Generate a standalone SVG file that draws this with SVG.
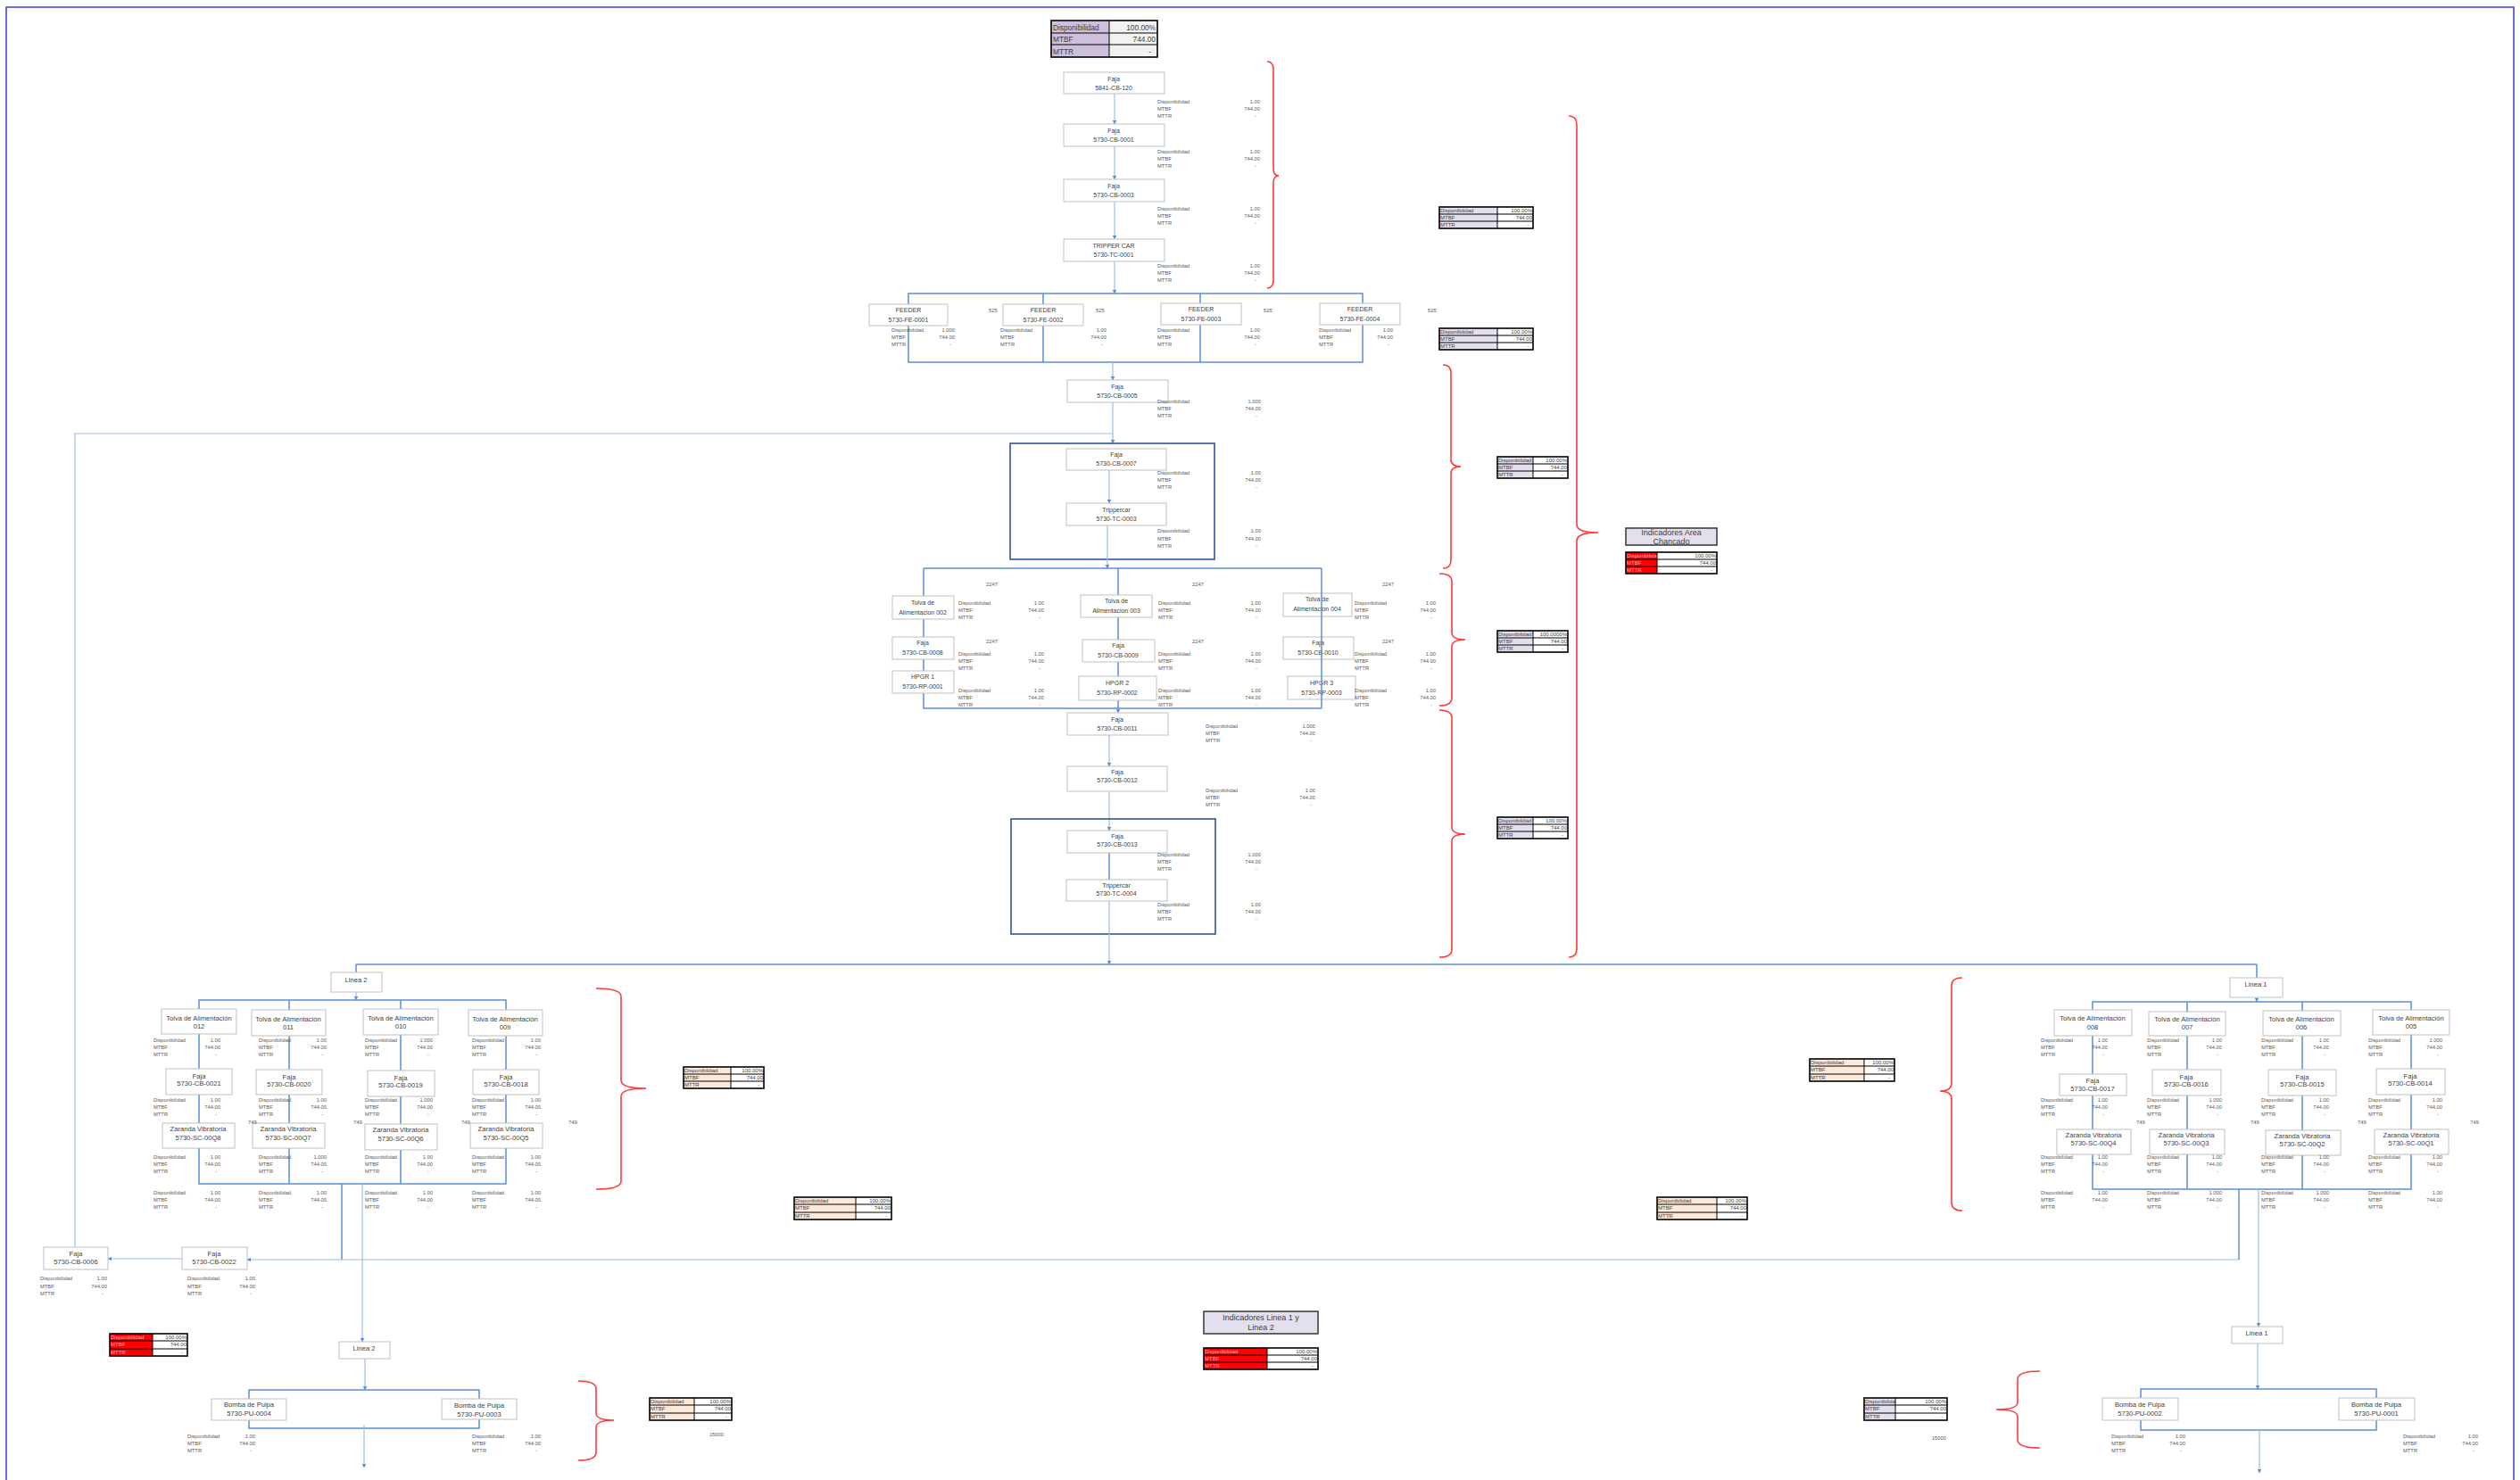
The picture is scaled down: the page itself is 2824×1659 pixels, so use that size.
<svg xmlns="http://www.w3.org/2000/svg" width="2824" height="1659" viewBox="0 0 2824 1659">
<style>
.n rect{fill:#fff;stroke:#bfbfbf;stroke-width:1}
.n text{font-family:"Liberation Sans",Arial,sans-serif;font-size:7px;fill:#404040;text-anchor:middle}
.n.b text{font-size:7.6px}
.d{font-family:"Liberation Sans",Arial,sans-serif;font-size:5.8px;fill:#595959}
.v{text-anchor:end}
.lbl{font-family:"Liberation Sans",Arial,sans-serif;font-size:5.8px;fill:#595959}
.c1{fill:none;stroke:#9dbde6;stroke-width:1.2}
.c2{fill:none;stroke:#5b8ed6;stroke-width:1.5}
.c3{fill:none;stroke:#2f5597;stroke-width:1.6}
.br{fill:none;stroke:#ff3b3b;stroke-width:1.6}
.t text{font-family:"Liberation Sans",Arial,sans-serif;font-size:6px;fill:#404040}
.t .tv{text-anchor:end}
.t .g{fill:none;stroke:#000;stroke-width:1}
.t .o{fill:none;stroke:#000;stroke-width:1.6}
.lav{fill:#e4dfec}.peach{fill:#fde9d9}.red{fill:#ff0000}.wh{fill:#fff}
.t text.rt{fill:#ffb3b3}
</style>
<defs>
<marker id="ah" viewBox="0 0 6 6" refX="5.5" refY="3" markerWidth="4" markerHeight="4" orient="auto"><path d="M0,0 L6,3 L0,6 z" fill="#5b8ed6"/></marker>
</defs>
<rect width="2824" height="1659" fill="#fff"/>
<path d="M7,1659 V8 H2817 V1659" fill="none" stroke="#3b3bd9" stroke-width="1.5"/>

<g id="connectors">
<path class="c1" d="M1249,105 V139" marker-end="url(#ah)"/>
<path class="c1" d="M1249,164 V201" marker-end="url(#ah)"/>
<path class="c1" d="M1249,226 V268" marker-end="url(#ah)"/>
<path class="c1" d="M1249,293 V329" marker-end="url(#ah)"/>
<path class="c2" d="M1018,329 H1527 V406 H1018 Z M1169,329 V406 M1345,329 V406"/>
<path class="c1" d="M1247,406 V426" marker-end="url(#ah)"/>
<path class="c1" d="M1247,451 V497" marker-end="url(#ah)"/>
<path class="c1" d="M84,1398 V486 H1247"/>
<rect class="c3" x="1132" y="497" width="229" height="130"/>
<path class="c1" d="M1243,527 V564" marker-end="url(#ah)"/>
<path class="c1" d="M1241,589 V637" marker-end="url(#ah)"/>
<path class="c2" d="M1035,637 H1481 M1035,637 V794 H1481 M1253,637 V794"/>
<path class="c1" d="M1253,794 V799" marker-end="url(#ah)"/>
<path class="c1" d="M1243,824 V859" marker-end="url(#ah)"/>
<path class="c1" d="M1243,887 V931" marker-end="url(#ah)"/>
<rect class="c3" x="1133" y="918" width="229" height="129"/>
<path class="c2" d="M1243,956 V986"/>
<path class="c1" d="M1243,1010 V1081" marker-end="url(#ah)"/>
<path class="c2" d="M399,1081 H2529"/>
<path class="c2" d="M399,1081 V1090"/>
<path class="c2" d="M2529,1081 V1096"/>
<path class="c1" d="M399,1112 V1121" marker-end="url(#ah)"/>
<path class="c2" d="M223,1121 H567 V1327 H223 Z M324,1121 V1327 M449,1121 V1327"/>
<path class="c2" d="M383,1327 V1412"/>
<path class="c1" d="M406,1327 V1504" marker-end="url(#ah)"/>
<path class="c1" d="M2509,1412 H277" marker-end="url(#ah)"/>
<path class="c1" d="M204,1411 H121" marker-end="url(#ah)"/>
<path class="c1" d="M2529,1118 V1123" marker-end="url(#ah)"/>
<path class="c2" d="M2345,1123 H2702 V1333 H2345 Z M2451,1123 V1333 M2580,1123 V1333"/>
<path class="c2" d="M2509,1333 V1412"/>
<path class="c1" d="M2531,1333 V1487" marker-end="url(#ah)"/>
<path class="c1" d="M409,1523 V1558" marker-end="url(#ah)"/>
<path class="c2" d="M279,1558 H537 V1601 H279 Z"/>
<path class="c1" d="M408,1597 V1645" marker-end="url(#ah)"/>
<path class="c1" d="M2530,1506 V1557" marker-end="url(#ah)"/>
<path class="c2" d="M2399,1557 H2663 V1603 H2399 Z"/>
<path class="c1" d="M2532,1603 V1651" marker-end="url(#ah)"/>
</g>

<g id="brackets">
<path class="br" d="M1420,69 Q1427,69 1427,78 V189 Q1427,197 1433,197 Q1427,197 1427,205 V314 Q1427,323 1420,323"/>
<path class="br" d="M1758,130 Q1767,130 1767,140 V588 Q1767,597 1791,597 Q1767,597 1767,606 V1063 Q1767,1073 1758,1073"/>
<path class="br" d="M1617,409 Q1626,409 1626,418 V515 Q1626,523 1637,523 Q1626,523 1626,531 V628 Q1626,637 1617,637"/>
<path class="br" d="M1613,643 Q1627,643 1627,652 V709 Q1627,717 1642,717 Q1627,717 1627,725 V782 Q1627,791 1613,791"/>
<path class="br" d="M1613,796 Q1627,796 1627,805 V927 Q1627,935 1642,935 Q1627,935 1627,943 V1064 Q1627,1073 1613,1073"/>
<path class="br" d="M668,1108 Q696,1108 696,1117 V1211 Q696,1220 724,1220 Q696,1220 696,1229 V1324 Q696,1333 668,1333"/>
<path class="br" d="M2199,1096 Q2187,1096 2187,1105 V1214 Q2187,1223 2174,1223 Q2187,1223 2187,1232 V1348 Q2187,1357 2199,1357"/>
<path class="br" d="M648,1548 Q668,1548 668,1557 V1584 Q668,1592 688,1592 Q668,1592 668,1600 V1628 Q668,1637 648,1637"/>
<path class="br" d="M2286,1537 Q2261,1537 2261,1546 V1572 Q2261,1580 2237,1580 Q2261,1580 2261,1588 V1614 Q2261,1623 2286,1623"/>
</g>

<g id="tbl-top" class="t">
<rect x="1178" y="23" width="65" height="41" fill="#ccc0da"/>
<text x="1180" y="33.5" style="font-size:8.3px">Disponibilidad</text><text x="1180" y="47" style="font-size:8.3px">MTBF</text><text x="1180" y="60.5" style="font-size:8.3px">MTTR</text>
<rect x="1243" y="23" width="54" height="41" fill="#f2f2f2"/>
<text class="tv" x="1295" y="33.5" style="font-size:8.3px">100.00%</text><text class="tv" x="1295" y="47" style="font-size:8.3px">744.00</text><text class="tv" x="1290" y="60.5" style="font-size:8.3px">-</text>
<path class="g" d="M1243,23 V64 M1178,37 H1297 M1178,50 H1297"/><rect class="o" x="1178" y="23" width="119" height="41"/>
</g>

<g id="tbl-1" class="t">
<rect class="lav" x="1613" y="232" width="65" height="24"/>
<text x="1614" y="238">Disponibilidad</text><text x="1614" y="246">MTBF</text><text x="1614" y="254">MTTR</text>
<rect class="wh" x="1678" y="232" width="40" height="24"/>
<text class="tv" x="1717" y="238">100.00%</text><text class="tv" x="1717" y="246">744.00</text><text class="tv" x="1713" y="254">-</text>
<path class="g" d="M1678,232 V256 M1613,240 H1718 M1613,248 H1718"/><rect class="o" x="1613" y="232" width="105" height="24"/>
</g>
<g id="tbl-2" class="t">
<rect class="lav" x="1613" y="368" width="65" height="24"/>
<text x="1614" y="374">Disponibilidad</text><text x="1614" y="382">MTBF</text><text x="1614" y="390">MTTR</text>
<rect class="wh" x="1678" y="368" width="40" height="24"/>
<text class="tv" x="1717" y="374">100.00%</text><text class="tv" x="1717" y="382">744.00</text><text class="tv" x="1713" y="390">-</text>
<path class="g" d="M1678,368 V392 M1613,376 H1718 M1613,384 H1718"/><rect class="o" x="1613" y="368" width="105" height="24"/>
</g>
<g id="tbl-3" class="t">
<rect class="lav" x="1678" y="512" width="40" height="24"/>
<text x="1679" y="518">Disponibilidad</text><text x="1679" y="526">MTBF</text><text x="1679" y="534">MTTR</text>
<rect class="wh" x="1718" y="512" width="39" height="24"/>
<text class="tv" x="1756" y="518">100.00%</text><text class="tv" x="1756" y="526">744.00</text><text class="tv" x="1752" y="534">-</text>
<path class="g" d="M1718,512 V536 M1678,520 H1757 M1678,528 H1757"/><rect class="o" x="1678" y="512" width="79" height="24"/>
</g>
<g id="tbl-4" class="t">
<rect class="lav" x="1678" y="707" width="40" height="24"/>
<text x="1679" y="713">Disponibilidad</text><text x="1679" y="721">MTBF</text><text x="1679" y="729">MTTR</text>
<rect class="wh" x="1718" y="707" width="39" height="24"/>
<text class="tv" x="1756" y="713">100.0000%</text><text class="tv" x="1756" y="721">744.00</text><text class="tv" x="1752" y="729">-</text>
<path class="g" d="M1718,707 V731 M1678,715 H1757 M1678,723 H1757"/><rect class="o" x="1678" y="707" width="79" height="24"/>
</g>
<g id="tbl-5" class="t">
<rect class="lav" x="1678" y="916" width="40" height="24"/>
<text x="1679" y="922">Disponibilidad</text><text x="1679" y="930">MTBF</text><text x="1679" y="938">MTTR</text>
<rect class="wh" x="1718" y="916" width="39" height="24"/>
<text class="tv" x="1756" y="922">100.00%</text><text class="tv" x="1756" y="930">744.00</text><text class="tv" x="1752" y="938">-</text>
<path class="g" d="M1718,916 V940 M1678,924 H1757 M1678,932 H1757"/><rect class="o" x="1678" y="916" width="79" height="24"/>
</g>

<g id="ind-chancado">
<rect x="1822" y="592" width="102" height="19" fill="#e4dfec" stroke="#404040" stroke-width="1.6"/>
<text x="1873" y="600" font-family="Liberation Sans, Arial, sans-serif" font-size="9" fill="#404040" text-anchor="middle">Indicadores Area</text>
<text x="1873" y="610" font-family="Liberation Sans, Arial, sans-serif" font-size="9" fill="#404040" text-anchor="middle">Chancado</text>
</g>
<g id="tbl-chancado" class="t">
<rect class="red" x="1822" y="619" width="35" height="24"/>
<text class="rt" x="1823" y="625">Disponibilidad</text><text class="rt" x="1823" y="633">MTBF</text><text class="rt" x="1823" y="641">MTTR</text>
<rect class="wh" x="1857" y="619" width="67" height="24"/>
<text class="tv" x="1923" y="625">100.00%</text><text class="tv" x="1923" y="633">744.00</text><text class="tv" x="1919" y="641">-</text>
<path class="g" d="M1857,619 V643 M1822,627 H1924 M1822,635 H1924"/><rect class="o" x="1822" y="619" width="102" height="24"/>
</g>

<g id="tbl-6" class="t">
<rect class="peach" x="766" y="1196" width="53" height="24"/>
<text x="767" y="1202">Disponibilidad</text><text x="767" y="1210">MTBF</text><text x="767" y="1218">MTTR</text>
<rect class="wh" x="819" y="1196" width="37" height="24"/>
<text class="tv" x="855" y="1202">100.00%</text><text class="tv" x="855" y="1210">744.00</text><text class="tv" x="851" y="1218">-</text>
<path class="g" d="M819,1196 V1220 M766,1204 H856 M766,1212 H856"/><rect class="o" x="766" y="1196" width="90" height="24"/>
</g>
<g id="tbl-7" class="t">
<rect class="peach" x="890" y="1342" width="69" height="25"/>
<text x="891" y="1348">Disponibilidad</text><text x="891" y="1356">MTBF</text><text x="891" y="1365">MTTR</text>
<rect class="wh" x="959" y="1342" width="40" height="25"/>
<text class="tv" x="998" y="1348">100.00%</text><text class="tv" x="998" y="1356">744.00</text><text class="tv" x="994" y="1365">-</text>
<path class="g" d="M959,1342 V1367 M890,1350 H999 M890,1359 H999"/><rect class="o" x="890" y="1342" width="109" height="25"/>
</g>
<g id="tbl-8" class="t">
<rect class="peach" x="2028" y="1187" width="61" height="25"/>
<text x="2029" y="1193">Disponibilidad</text><text x="2029" y="1201">MTBF</text><text x="2029" y="1210">MTTR</text>
<rect class="wh" x="2089" y="1187" width="34" height="25"/>
<text class="tv" x="2122" y="1193">100.00%</text><text class="tv" x="2122" y="1201">744.00</text><text class="tv" x="2118" y="1210">-</text>
<path class="g" d="M2089,1187 V1212 M2028,1195 H2123 M2028,1204 H2123"/><rect class="o" x="2028" y="1187" width="95" height="25"/>
</g>
<g id="tbl-9" class="t">
<rect class="peach" x="1857" y="1342" width="67" height="25"/>
<text x="1858" y="1348">Disponibilidad</text><text x="1858" y="1356">MTBF</text><text x="1858" y="1365">MTTR</text>
<rect class="wh" x="1924" y="1342" width="34" height="25"/>
<text class="tv" x="1957" y="1348">100.00%</text><text class="tv" x="1957" y="1356">744.00</text><text class="tv" x="1953" y="1365">-</text>
<path class="g" d="M1924,1342 V1367 M1857,1350 H1958 M1857,1359 H1958"/><rect class="o" x="1857" y="1342" width="101" height="25"/>
</g>
<g id="tbl-10" class="t">
<rect class="red" x="123" y="1495" width="48" height="25"/>
<text class="rt" x="124" y="1501">Disponibilidad</text><text class="rt" x="124" y="1509">MTBF</text><text class="rt" x="124" y="1518">MTTR</text>
<rect class="wh" x="171" y="1495" width="39" height="25"/>
<text class="tv" x="209" y="1501">100.00%</text><text class="tv" x="209" y="1509">744.00</text><text class="tv" x="205" y="1518">-</text>
<path class="g" d="M171,1495 V1520 M123,1503 H210 M123,1512 H210"/><rect class="o" x="123" y="1495" width="87" height="25"/>
</g>
<g id="tbl-11" class="t">
<rect class="peach" x="728" y="1567" width="50" height="25"/>
<text x="729" y="1573">Disponibilidad</text><text x="729" y="1581">MTBF</text><text x="729" y="1590">MTTR</text>
<rect class="wh" x="778" y="1567" width="42" height="25"/>
<text class="tv" x="819" y="1573">100.00%</text><text class="tv" x="819" y="1581">744.00</text><text class="tv" x="815" y="1590">-</text>
<path class="g" d="M778,1567 V1592 M728,1575 H820 M728,1584 H820"/><rect class="o" x="728" y="1567" width="92" height="25"/>
</g>
<g id="tbl-12" class="t">
<rect class="lav" x="2089" y="1567" width="35" height="25"/>
<text x="2090" y="1573">Disponibilidad</text><text x="2090" y="1581">MTBF</text><text x="2090" y="1590">MTTR</text>
<rect class="wh" x="2124" y="1567" width="58" height="25"/>
<text class="tv" x="2181" y="1573">100.00%</text><text class="tv" x="2181" y="1581">744.00</text><text class="tv" x="2177" y="1590">-</text>
<path class="g" d="M2124,1567 V1592 M2089,1575 H2182 M2089,1584 H2182"/><rect class="o" x="2089" y="1567" width="93" height="25"/>
</g>
<g id="ind-lineas">
<rect x="1349" y="1470" width="128" height="25" fill="#e4dfec" stroke="#404040" stroke-width="1.6"/>
<text x="1413" y="1480" font-family="Liberation Sans, Arial, sans-serif" font-size="9" fill="#404040" text-anchor="middle">Indicadores Linea 1 y</text>
<text x="1413" y="1491" font-family="Liberation Sans, Arial, sans-serif" font-size="9" fill="#404040" text-anchor="middle">Linea 2</text>
</g>
<g id="tbl-lineas" class="t">
<rect class="red" x="1349" y="1511" width="71" height="24"/>
<text class="rt" x="1350" y="1517">Disponibilidad</text><text class="rt" x="1350" y="1525">MTBF</text><text class="rt" x="1350" y="1533">MTTR</text>
<rect class="wh" x="1420" y="1511" width="57" height="24"/>
<text class="tv" x="1476" y="1517">100.00%</text><text class="tv" x="1476" y="1525">744.00</text><text class="tv" x="1472" y="1533">-</text>
<path class="g" d="M1420,1511 V1535 M1349,1519 H1477 M1349,1527 H1477"/><rect class="o" x="1349" y="1511" width="128" height="24"/>
</g>

<g id="nodes-main">
<g id="n-cb120" class="n"><rect x="1192" y="81" width="113" height="24"/><text x="1248" y="91">Faja</text><text x="1248" y="101">5841-CB-120</text></g>
<g id="n-cb0001" class="n"><rect x="1192" y="139" width="113" height="25"/><text x="1248" y="149">Faja</text><text x="1248" y="159">5730-CB-0001</text></g>
<g id="n-cb0003" class="n"><rect x="1192" y="201" width="113" height="25"/><text x="1248" y="211">Faja</text><text x="1248" y="221">5730-CB-0003</text></g>
<g id="n-tc0001" class="n"><rect x="1192" y="268" width="113" height="25"/><text x="1248" y="278">TRIPPER CAR</text><text x="1248" y="288">5730-TC-0001</text></g>
<g id="n-fe0001" class="n"><rect x="974" y="341" width="88" height="24"/><text x="1018" y="350">FEEDER</text><text x="1018" y="361">5730-FE-0001</text></g>
<g id="n-fe0002" class="n"><rect x="1124" y="341" width="90" height="24"/><text x="1169" y="350">FEEDER</text><text x="1169" y="361">5730-FE-0002</text></g>
<g id="n-fe0003" class="n"><rect x="1301" y="340" width="90" height="24"/><text x="1346" y="349">FEEDER</text><text x="1346" y="360">5730-FE-0003</text></g>
<g id="n-fe0004" class="n"><rect x="1479" y="340" width="90" height="24"/><text x="1524" y="349">FEEDER</text><text x="1524" y="360">5730-FE-0004</text></g>
<g id="n-cb0005" class="n"><rect x="1196" y="426" width="113" height="25"/><text x="1252" y="436">Faja</text><text x="1252" y="446">5730-CB-0005</text></g>
<g id="n-cb0007" class="n"><rect x="1195" y="503" width="112" height="24"/><text x="1251" y="512">Faja</text><text x="1251" y="522">5730-CB-0007</text></g>
<g id="n-tc0003" class="n"><rect x="1195" y="564" width="112" height="25"/><text x="1251" y="574">Trippercar</text><text x="1251" y="584">5730-TC-0003</text></g>
<g id="n-tolva002" class="n"><rect x="1000" y="668" width="69" height="26"/><text x="1034" y="678">Tolva de</text><text x="1034" y="689">Alimentacion 002</text></g>
<g id="n-tolva003" class="n"><rect x="1211" y="667" width="80" height="25"/><text x="1251" y="676">Tolva de</text><text x="1251" y="687">Alimentacion 003</text></g>
<g id="n-tolva004" class="n"><rect x="1438" y="665" width="77" height="26"/><text x="1476" y="674">Tolva de</text><text x="1476" y="685">Alimentacion 004</text></g>
<g id="n-cb0008" class="n"><rect x="1000" y="714" width="69" height="25"/><text x="1034" y="723">Faja</text><text x="1034" y="734">5730-CB-0008</text></g>
<g id="n-cb0009" class="n"><rect x="1213" y="717" width="81" height="25"/><text x="1253" y="726">Faja</text><text x="1253" y="737">5730-CB-0009</text></g>
<g id="n-cb0010" class="n"><rect x="1438" y="714" width="79" height="25"/><text x="1477" y="723">Faja</text><text x="1477" y="734">5730-CB-0010</text></g>
<g id="n-hpgr1" class="n"><rect x="1000" y="752" width="69" height="25"/><text x="1034" y="761">HPGR 1</text><text x="1034" y="772">5730-RP-0001</text></g>
<g id="n-hpgr2" class="n"><rect x="1209" y="758" width="87" height="27"/><text x="1252" y="768">HPGR 2</text><text x="1252" y="779">5730-RP-0002</text></g>
<g id="n-hpgr3" class="n"><rect x="1443" y="758" width="76" height="26"/><text x="1481" y="768">HPGR 3</text><text x="1481" y="779">5730-RP-0003</text></g>
<g id="n-cb0011" class="n"><rect x="1196" y="799" width="113" height="25"/><text x="1252" y="809">Faja</text><text x="1252" y="819">5730-CB-0011</text></g>
<g id="n-cb0012" class="n"><rect x="1196" y="859" width="112" height="28"/><text x="1252" y="868">Faja</text><text x="1252" y="877">5730-CB-0012</text></g>
<g id="n-cb0013" class="n"><rect x="1196" y="931" width="112" height="25"/><text x="1252" y="940">Faja</text><text x="1252" y="949">5730-CB-0013</text></g>
<g id="n-tc0004" class="n"><rect x="1195" y="986" width="113" height="24"/><text x="1251" y="995">Trippercar</text><text x="1251" y="1004">5730-TC-0004</text></g>
</g>

<g id="connectors-front">
<path class="c2" d="M1481,637 V794"/>
</g>

<g id="nodes-linea2">
<g id="n-linea2a" class="n b"><rect x="371" y="1090" width="57" height="22"/><text x="399" y="1101">Linea 2</text></g>
<g id="n-tolva012" class="n b"><rect x="181" y="1131" width="84" height="28"/><text x="223" y="1144">Tolva de Alimentación</text><text x="223" y="1153">012</text></g>
<g id="n-tolva011" class="n b"><rect x="282" y="1132" width="83" height="29"/><text x="323" y="1145">Tolva de Alimentación</text><text x="323" y="1154">011</text></g>
<g id="n-tolva010" class="n b"><rect x="407" y="1131" width="84" height="29"/><text x="449" y="1144">Tolva de Alimentación</text><text x="449" y="1153">010</text></g>
<g id="n-tolva009" class="n b"><rect x="525" y="1132" width="83" height="29"/><text x="566" y="1145">Tolva de Alimentación</text><text x="566" y="1154">009</text></g>
<g id="n-cb0021" class="n b"><rect x="186" y="1198" width="74" height="29"/><text x="223" y="1209">Faja</text><text x="223" y="1217">5730-CB-0021</text></g>
<g id="n-cb0020" class="n b"><rect x="287" y="1199" width="74" height="28"/><text x="324" y="1210">Faja</text><text x="324" y="1218">5730-CB-0020</text></g>
<g id="n-cb0019" class="n b"><rect x="412" y="1200" width="75" height="29"/><text x="449" y="1211">Faja</text><text x="449" y="1219">5730-CB-0019</text></g>
<g id="n-cb0018" class="n b"><rect x="530" y="1199" width="74" height="28"/><text x="567" y="1210">Faja</text><text x="567" y="1218">5730-CB-0018</text></g>
<g id="n-sc00q8" class="n b"><rect x="182" y="1259" width="81" height="28"/><text x="222" y="1268">Zaranda Vibratoria</text><text x="222" y="1278">5730-SC-00Q8</text></g>
<g id="n-sc00q7" class="n b"><rect x="283" y="1259" width="81" height="28"/><text x="323" y="1268">Zaranda Vibratoria</text><text x="323" y="1278">5730-SC-00Q7</text></g>
<g id="n-sc00q6" class="n b"><rect x="409" y="1260" width="81" height="29"/><text x="449" y="1269">Zaranda Vibratoria</text><text x="449" y="1279">5730-SC-00Q6</text></g>
<g id="n-sc00q5" class="n b"><rect x="527" y="1259" width="81" height="28"/><text x="567" y="1268">Zaranda Vibratoria</text><text x="567" y="1278">5730-SC-00Q5</text></g>
<g id="n-cb0006" class="n b"><rect x="49" y="1398" width="72" height="25"/><text x="85" y="1408">Faja</text><text x="85" y="1417">5730-CB-0006</text></g>
<g id="n-cb0022" class="n b"><rect x="204" y="1398" width="73" height="25"/><text x="240" y="1408">Faja</text><text x="240" y="1417">5730-CB-0022</text></g>
<g id="n-linea2b" class="n b"><rect x="380" y="1504" width="57" height="19"/><text x="408" y="1514">Linea 2</text></g>
<g id="n-pu0004" class="n b"><rect x="237" y="1568" width="84" height="24"/><text x="279" y="1577">Bomba de Pulpa</text><text x="279" y="1587">5730-PU-0004</text></g>
<g id="n-pu0003" class="n b"><rect x="495" y="1568" width="84" height="23"/><text x="537" y="1578">Bomba de Pulpa</text><text x="537" y="1588">5730-PU-0003</text></g>
</g>

<g id="nodes-linea1">
<g id="n-linea1a" class="n b"><rect x="2499" y="1096" width="59" height="22"/><text x="2528" y="1106">Linea 1</text></g>
<g id="n-tolva008" class="n b"><rect x="2302" y="1132" width="87" height="29"/><text x="2345" y="1144">Tolva de Alimentación</text><text x="2345" y="1154">008</text></g>
<g id="n-tolva007" class="n b"><rect x="2408" y="1134" width="86" height="27"/><text x="2451" y="1145">Tolva de Alimentación</text><text x="2451" y="1154">007</text></g>
<g id="n-tolva006" class="n b"><rect x="2536" y="1133" width="87" height="28"/><text x="2579" y="1145">Tolva de Alimentación</text><text x="2579" y="1154">006</text></g>
<g id="n-tolva005" class="n b"><rect x="2659" y="1132" width="86" height="28"/><text x="2702" y="1144">Tolva de Alimentación</text><text x="2702" y="1153">005</text></g>
<g id="n-cb0017" class="n b"><rect x="2308" y="1204" width="75" height="24"/><text x="2345" y="1214">Faja</text><text x="2345" y="1223">5730-CB-0017</text></g>
<g id="n-cb0016" class="n b"><rect x="2412" y="1199" width="77" height="29"/><text x="2450" y="1210">Faja</text><text x="2450" y="1218">5730-CB-0016</text></g>
<g id="n-cb0015" class="n b"><rect x="2542" y="1199" width="76" height="29"/><text x="2580" y="1210">Faja</text><text x="2580" y="1218">5730-CB-0015</text></g>
<g id="n-cb0014" class="n b"><rect x="2663" y="1198" width="77" height="29"/><text x="2701" y="1209">Faja</text><text x="2701" y="1217">5730-CB-0014</text></g>
<g id="n-sc00q4" class="n b"><rect x="2305" y="1266" width="83" height="28"/><text x="2346" y="1275">Zaranda Vibratoria</text><text x="2346" y="1284">5730-SC-00Q4</text></g>
<g id="n-sc00q3" class="n b"><rect x="2409" y="1266" width="84" height="28"/><text x="2450" y="1275">Zaranda Vibratoria</text><text x="2450" y="1284">5730-SC-00Q3</text></g>
<g id="n-sc00q2" class="n b"><rect x="2539" y="1267" width="84" height="28"/><text x="2580" y="1276">Zaranda Vibratoria</text><text x="2580" y="1285">5730-SC-00Q2</text></g>
<g id="n-sc00q1" class="n b"><rect x="2661" y="1266" width="83" height="28"/><text x="2702" y="1275">Zaranda Vibratoria</text><text x="2702" y="1284">5730-SC-00Q1</text></g>
<g id="n-linea1b" class="n b"><rect x="2501" y="1487" width="57" height="19"/><text x="2529" y="1497">Linea 1</text></g>
<g id="n-pu0002" class="n b"><rect x="2356" y="1567" width="85" height="25"/><text x="2398" y="1577">Bomba de Pulpa</text><text x="2398" y="1587">5730-PU-0002</text></g>
<g id="n-pu0001" class="n b"><rect x="2621" y="1567" width="85" height="25"/><text x="2663" y="1577">Bomba de Pulpa</text><text x="2663" y="1587">5730-PU-0001</text></g>
</g>

<g id="labels">
<text class="lbl" x="1108" y="350">525</text><text class="lbl" x="1228" y="350">525</text><text class="lbl" x="1416" y="350">525</text><text class="lbl" x="1600" y="350">525</text>
<text class="lbl" x="1105" y="657">2247</text><text class="lbl" x="1336" y="657">2247</text><text class="lbl" x="1549" y="657">2247</text>
<text class="lbl" x="1105" y="721">2247</text><text class="lbl" x="1336" y="721">2247</text><text class="lbl" x="1549" y="721">2247</text>
<text class="lbl" x="278" y="1260">749</text><text class="lbl" x="396" y="1260">749</text><text class="lbl" x="517" y="1260">749</text><text class="lbl" x="637" y="1260">749</text>
<text class="lbl" x="2394" y="1260">749</text><text class="lbl" x="2522" y="1260">749</text><text class="lbl" x="2642" y="1260">749</text><text class="lbl" x="2768" y="1260">749</text>
<text class="lbl v" x="811" y="1610">15000</text><text class="lbl v" x="2181" y="1614">15000</text>
</g>

<g id="data">
<text class="d" x="1297" y="116">Disponibilidad<tspan x="1297" dy="8">MTBF</tspan><tspan x="1297" dy="8">MTTR</tspan></text><text class="d v" x="1412" y="116">1.00<tspan x="1412" dy="8">744.00</tspan><tspan x="1408" dy="8">-</tspan></text>
<text class="d" x="1297" y="172">Disponibilidad<tspan x="1297" dy="8">MTBF</tspan><tspan x="1297" dy="8">MTTR</tspan></text><text class="d v" x="1412" y="172">1.00<tspan x="1412" dy="8">744.00</tspan><tspan x="1408" dy="8">-</tspan></text>
<text class="d" x="1297" y="236">Disponibilidad<tspan x="1297" dy="8">MTBF</tspan><tspan x="1297" dy="8">MTTR</tspan></text><text class="d v" x="1412" y="236">1.00<tspan x="1412" dy="8">744.00</tspan><tspan x="1408" dy="8">-</tspan></text>
<text class="d" x="1297" y="300">Disponibilidad<tspan x="1297" dy="8">MTBF</tspan><tspan x="1297" dy="8">MTTR</tspan></text><text class="d v" x="1412" y="300">1.00<tspan x="1412" dy="8">744.00</tspan><tspan x="1408" dy="8">-</tspan></text>
<text class="d" x="999" y="372">Disponibilidad<tspan x="999" dy="8">MTBF</tspan><tspan x="999" dy="8">MTTR</tspan></text><text class="d v" x="1070" y="372">1.000<tspan x="1070" dy="8">744.00</tspan><tspan x="1066" dy="8">-</tspan></text>
<text class="d" x="1121" y="372">Disponibilidad<tspan x="1121" dy="8">MTBF</tspan><tspan x="1121" dy="8">MTTR</tspan></text><text class="d v" x="1240" y="372">1.00<tspan x="1240" dy="8">744.00</tspan><tspan x="1236" dy="8">-</tspan></text>
<text class="d" x="1297" y="372">Disponibilidad<tspan x="1297" dy="8">MTBF</tspan><tspan x="1297" dy="8">MTTR</tspan></text><text class="d v" x="1412" y="372">1.00<tspan x="1412" dy="8">744.00</tspan><tspan x="1408" dy="8">-</tspan></text>
<text class="d" x="1478" y="372">Disponibilidad<tspan x="1478" dy="8">MTBF</tspan><tspan x="1478" dy="8">MTTR</tspan></text><text class="d v" x="1561" y="372">1.00<tspan x="1561" dy="8">744.00</tspan><tspan x="1557" dy="8">-</tspan></text>
<text class="d" x="1297" y="452">Disponibilidad<tspan x="1297" dy="8">MTBF</tspan><tspan x="1297" dy="8">MTTR</tspan></text><text class="d v" x="1413" y="452">1.000<tspan x="1413" dy="8">744.00</tspan><tspan x="1409" dy="8">-</tspan></text>
<text class="d" x="1297" y="532">Disponibilidad<tspan x="1297" dy="8">MTBF</tspan><tspan x="1297" dy="8">MTTR</tspan></text><text class="d v" x="1413" y="532">1.00<tspan x="1413" dy="8">744.00</tspan><tspan x="1409" dy="8">-</tspan></text>
<text class="d" x="1297" y="597">Disponibilidad<tspan x="1297" dy="9">MTBF</tspan><tspan x="1297" dy="8">MTTR</tspan></text><text class="d v" x="1413" y="597">1.00<tspan x="1413" dy="9">744.00</tspan><tspan x="1409" dy="8">-</tspan></text>
<text class="d" x="1074" y="678">Disponibilidad<tspan x="1074" dy="8">MTBF</tspan><tspan x="1074" dy="8">MTTR</tspan></text><text class="d v" x="1170" y="678">1.00<tspan x="1170" dy="8">744.00</tspan><tspan x="1166" dy="8">-</tspan></text>
<text class="d" x="1298" y="678">Disponibilidad<tspan x="1298" dy="8">MTBF</tspan><tspan x="1298" dy="8">MTTR</tspan></text><text class="d v" x="1413" y="678">1.00<tspan x="1413" dy="8">744.00</tspan><tspan x="1409" dy="8">-</tspan></text>
<text class="d" x="1518" y="678">Disponibilidad<tspan x="1518" dy="8">MTBF</tspan><tspan x="1518" dy="8">MTTR</tspan></text><text class="d v" x="1609" y="678">1.00<tspan x="1609" dy="8">744.00</tspan><tspan x="1605" dy="8">-</tspan></text>
<text class="d" x="1074" y="735">Disponibilidad<tspan x="1074" dy="8">MTBF</tspan><tspan x="1074" dy="8">MTTR</tspan></text><text class="d v" x="1170" y="735">1.00<tspan x="1170" dy="8">744.00</tspan><tspan x="1166" dy="8">-</tspan></text>
<text class="d" x="1298" y="735">Disponibilidad<tspan x="1298" dy="8">MTBF</tspan><tspan x="1298" dy="8">MTTR</tspan></text><text class="d v" x="1413" y="735">1.00<tspan x="1413" dy="8">744.00</tspan><tspan x="1409" dy="8">-</tspan></text>
<text class="d" x="1518" y="735">Disponibilidad<tspan x="1518" dy="8">MTBF</tspan><tspan x="1518" dy="8">MTTR</tspan></text><text class="d v" x="1609" y="735">1.00<tspan x="1609" dy="8">744.00</tspan><tspan x="1605" dy="8">-</tspan></text>
<text class="d" x="1074" y="776">Disponibilidad<tspan x="1074" dy="8">MTBF</tspan><tspan x="1074" dy="8">MTTR</tspan></text><text class="d v" x="1170" y="776">1.00<tspan x="1170" dy="8">744.00</tspan><tspan x="1166" dy="8">-</tspan></text>
<text class="d" x="1298" y="776">Disponibilidad<tspan x="1298" dy="8">MTBF</tspan><tspan x="1298" dy="8">MTTR</tspan></text><text class="d v" x="1413" y="776">1.00<tspan x="1413" dy="8">744.00</tspan><tspan x="1409" dy="8">-</tspan></text>
<text class="d" x="1518" y="776">Disponibilidad<tspan x="1518" dy="8">MTBF</tspan><tspan x="1518" dy="8">MTTR</tspan></text><text class="d v" x="1609" y="776">1.00<tspan x="1609" dy="8">744.00</tspan><tspan x="1605" dy="8">-</tspan></text>
<text class="d" x="1351" y="816">Disponibilidad<tspan x="1351" dy="8">MTBF</tspan><tspan x="1351" dy="8">MTTR</tspan></text><text class="d v" x="1474" y="816">1.000<tspan x="1474" dy="8">744.00</tspan><tspan x="1470" dy="8">-</tspan></text>
<text class="d" x="1351" y="888">Disponibilidad<tspan x="1351" dy="8">MTBF</tspan><tspan x="1351" dy="8">MTTR</tspan></text><text class="d v" x="1474" y="888">1.00<tspan x="1474" dy="8">744.00</tspan><tspan x="1470" dy="8">-</tspan></text>
<text class="d" x="1297" y="960">Disponibilidad<tspan x="1297" dy="8">MTBF</tspan><tspan x="1297" dy="8">MTTR</tspan></text><text class="d v" x="1413" y="960">1.000<tspan x="1413" dy="8">744.00</tspan><tspan x="1409" dy="8">-</tspan></text>
<text class="d" x="1297" y="1016">Disponibilidad<tspan x="1297" dy="8">MTBF</tspan><tspan x="1297" dy="8">MTTR</tspan></text><text class="d v" x="1413" y="1016">1.00<tspan x="1413" dy="8">744.00</tspan><tspan x="1409" dy="8">-</tspan></text>

<text class="d" x="172" y="1168">Disponibilidad<tspan x="172" dy="8">MTBF</tspan><tspan x="172" dy="8">MTTR</tspan></text><text class="d v" x="247" y="1168">1.00<tspan x="247" dy="8">744.00</tspan><tspan x="243" dy="8">-</tspan></text>
<text class="d" x="290" y="1168">Disponibilidad<tspan x="290" dy="8">MTBF</tspan><tspan x="290" dy="8">MTTR</tspan></text><text class="d v" x="366" y="1168">1.00<tspan x="366" dy="8">744.00</tspan><tspan x="362" dy="8">-</tspan></text>
<text class="d" x="409" y="1168">Disponibilidad<tspan x="409" dy="8">MTBF</tspan><tspan x="409" dy="8">MTTR</tspan></text><text class="d v" x="485" y="1168">1.000<tspan x="485" dy="8">744.00</tspan><tspan x="481" dy="8">-</tspan></text>
<text class="d" x="529" y="1168">Disponibilidad<tspan x="529" dy="8">MTBF</tspan><tspan x="529" dy="8">MTTR</tspan></text><text class="d v" x="606" y="1168">1.00<tspan x="606" dy="8">744.00</tspan><tspan x="602" dy="8">-</tspan></text>
<text class="d" x="172" y="1235">Disponibilidad<tspan x="172" dy="8">MTBF</tspan><tspan x="172" dy="8">MTTR</tspan></text><text class="d v" x="247" y="1235">1.00<tspan x="247" dy="8">744.00</tspan><tspan x="243" dy="8">-</tspan></text>
<text class="d" x="290" y="1235">Disponibilidad<tspan x="290" dy="8">MTBF</tspan><tspan x="290" dy="8">MTTR</tspan></text><text class="d v" x="366" y="1235">1.00<tspan x="366" dy="8">744.00</tspan><tspan x="362" dy="8">-</tspan></text>
<text class="d" x="409" y="1235">Disponibilidad<tspan x="409" dy="8">MTBF</tspan><tspan x="409" dy="8">MTTR</tspan></text><text class="d v" x="485" y="1235">1.000<tspan x="485" dy="8">744.00</tspan><tspan x="481" dy="8">-</tspan></text>
<text class="d" x="529" y="1235">Disponibilidad<tspan x="529" dy="8">MTBF</tspan><tspan x="529" dy="8">MTTR</tspan></text><text class="d v" x="606" y="1235">1.00<tspan x="606" dy="8">744.00</tspan><tspan x="602" dy="8">-</tspan></text>
<text class="d" x="172" y="1299">Disponibilidad<tspan x="172" dy="8">MTBF</tspan><tspan x="172" dy="8">MTTR</tspan></text><text class="d v" x="247" y="1299">1.00<tspan x="247" dy="8">744.00</tspan><tspan x="243" dy="8">-</tspan></text>
<text class="d" x="290" y="1299">Disponibilidad<tspan x="290" dy="8">MTBF</tspan><tspan x="290" dy="8">MTTR</tspan></text><text class="d v" x="366" y="1299">1.000<tspan x="366" dy="8">744.00</tspan><tspan x="362" dy="8">-</tspan></text>
<text class="d" x="409" y="1299">Disponibilidad<tspan x="409" dy="8">MTBF</tspan><tspan x="409" dy="8">MTTR</tspan></text><text class="d v" x="485" y="1299">1.00<tspan x="485" dy="8">744.00</tspan><tspan x="481" dy="8">-</tspan></text>
<text class="d" x="529" y="1299">Disponibilidad<tspan x="529" dy="8">MTBF</tspan><tspan x="529" dy="8">MTTR</tspan></text><text class="d v" x="606" y="1299">1.00<tspan x="606" dy="8">744.00</tspan><tspan x="602" dy="8">-</tspan></text>
<text class="d" x="172" y="1339">Disponibilidad<tspan x="172" dy="8">MTBF</tspan><tspan x="172" dy="8">MTTR</tspan></text><text class="d v" x="247" y="1339">1.00<tspan x="247" dy="8">744.00</tspan><tspan x="243" dy="8">-</tspan></text>
<text class="d" x="290" y="1339">Disponibilidad<tspan x="290" dy="8">MTBF</tspan><tspan x="290" dy="8">MTTR</tspan></text><text class="d v" x="366" y="1339">1.00<tspan x="366" dy="8">744.00</tspan><tspan x="362" dy="8">-</tspan></text>
<text class="d" x="409" y="1339">Disponibilidad<tspan x="409" dy="8">MTBF</tspan><tspan x="409" dy="8">MTTR</tspan></text><text class="d v" x="485" y="1339">1.00<tspan x="485" dy="8">744.00</tspan><tspan x="481" dy="8">-</tspan></text>
<text class="d" x="529" y="1339">Disponibilidad<tspan x="529" dy="8">MTBF</tspan><tspan x="529" dy="8">MTTR</tspan></text><text class="d v" x="606" y="1339">1.00<tspan x="606" dy="8">744.00</tspan><tspan x="602" dy="8">-</tspan></text>

<text class="d" x="2287" y="1168">Disponibilidad<tspan x="2287" dy="8">MTBF</tspan><tspan x="2287" dy="8">MTTR</tspan></text><text class="d v" x="2362" y="1168">1.00<tspan x="2362" dy="8">744.00</tspan><tspan x="2358" dy="8">-</tspan></text>
<text class="d" x="2406" y="1168">Disponibilidad<tspan x="2406" dy="8">MTBF</tspan><tspan x="2406" dy="8">MTTR</tspan></text><text class="d v" x="2490" y="1168">1.00<tspan x="2490" dy="8">744.00</tspan><tspan x="2486" dy="8">-</tspan></text>
<text class="d" x="2534" y="1168">Disponibilidad<tspan x="2534" dy="8">MTBF</tspan><tspan x="2534" dy="8">MTTR</tspan></text><text class="d v" x="2610" y="1168">1.00<tspan x="2610" dy="8">744.00</tspan><tspan x="2606" dy="8">-</tspan></text>
<text class="d" x="2654" y="1168">Disponibilidad<tspan x="2654" dy="8">MTBF</tspan><tspan x="2654" dy="8">MTTR</tspan></text><text class="d v" x="2737" y="1168">1.000<tspan x="2737" dy="8">744.00</tspan><tspan x="2733" dy="8">-</tspan></text>
<text class="d" x="2287" y="1235">Disponibilidad<tspan x="2287" dy="8">MTBF</tspan><tspan x="2287" dy="8">MTTR</tspan></text><text class="d v" x="2362" y="1235">1.00<tspan x="2362" dy="8">744.00</tspan><tspan x="2358" dy="8">-</tspan></text>
<text class="d" x="2406" y="1235">Disponibilidad<tspan x="2406" dy="8">MTBF</tspan><tspan x="2406" dy="8">MTTR</tspan></text><text class="d v" x="2490" y="1235">1.000<tspan x="2490" dy="8">744.00</tspan><tspan x="2486" dy="8">-</tspan></text>
<text class="d" x="2534" y="1235">Disponibilidad<tspan x="2534" dy="8">MTBF</tspan><tspan x="2534" dy="8">MTTR</tspan></text><text class="d v" x="2610" y="1235">1.00<tspan x="2610" dy="8">744.00</tspan><tspan x="2606" dy="8">-</tspan></text>
<text class="d" x="2654" y="1235">Disponibilidad<tspan x="2654" dy="8">MTBF</tspan><tspan x="2654" dy="8">MTTR</tspan></text><text class="d v" x="2737" y="1235">1.00<tspan x="2737" dy="8">744.00</tspan><tspan x="2733" dy="8">-</tspan></text>
<text class="d" x="2287" y="1299">Disponibilidad<tspan x="2287" dy="8">MTBF</tspan><tspan x="2287" dy="8">MTTR</tspan></text><text class="d v" x="2362" y="1299">1.00<tspan x="2362" dy="8">744.00</tspan><tspan x="2358" dy="8">-</tspan></text>
<text class="d" x="2406" y="1299">Disponibilidad<tspan x="2406" dy="8">MTBF</tspan><tspan x="2406" dy="8">MTTR</tspan></text><text class="d v" x="2490" y="1299">1.00<tspan x="2490" dy="8">744.00</tspan><tspan x="2486" dy="8">-</tspan></text>
<text class="d" x="2534" y="1299">Disponibilidad<tspan x="2534" dy="8">MTBF</tspan><tspan x="2534" dy="8">MTTR</tspan></text><text class="d v" x="2610" y="1299">1.00<tspan x="2610" dy="8">744.00</tspan><tspan x="2606" dy="8">-</tspan></text>
<text class="d" x="2654" y="1299">Disponibilidad<tspan x="2654" dy="8">MTBF</tspan><tspan x="2654" dy="8">MTTR</tspan></text><text class="d v" x="2737" y="1299">1.00<tspan x="2737" dy="8">744.00</tspan><tspan x="2733" dy="8">-</tspan></text>
<text class="d" x="2287" y="1339">Disponibilidad<tspan x="2287" dy="8">MTBF</tspan><tspan x="2287" dy="8">MTTR</tspan></text><text class="d v" x="2362" y="1339">1.00<tspan x="2362" dy="8">744.00</tspan><tspan x="2358" dy="8">-</tspan></text>
<text class="d" x="2406" y="1339">Disponibilidad<tspan x="2406" dy="8">MTBF</tspan><tspan x="2406" dy="8">MTTR</tspan></text><text class="d v" x="2490" y="1339">1.000<tspan x="2490" dy="8">744.00</tspan><tspan x="2486" dy="8">-</tspan></text>
<text class="d" x="2534" y="1339">Disponibilidad<tspan x="2534" dy="8">MTBF</tspan><tspan x="2534" dy="8">MTTR</tspan></text><text class="d v" x="2610" y="1339">1.000<tspan x="2610" dy="8">744.00</tspan><tspan x="2606" dy="8">-</tspan></text>
<text class="d" x="2654" y="1339">Disponibilidad<tspan x="2654" dy="8">MTBF</tspan><tspan x="2654" dy="8">MTTR</tspan></text><text class="d v" x="2737" y="1339">1.00<tspan x="2737" dy="8">744.00</tspan><tspan x="2733" dy="8">-</tspan></text>

<text class="d" x="45" y="1435">Disponibilidad<tspan x="45" dy="8.5">MTBF</tspan><tspan x="45" dy="8.5">MTTR</tspan></text><text class="d v" x="120" y="1435">1.00<tspan x="120" dy="8.5">744.00</tspan><tspan x="116" dy="8.5">-</tspan></text>
<text class="d" x="210" y="1435">Disponibilidad<tspan x="210" dy="8.5">MTBF</tspan><tspan x="210" dy="8.5">MTTR</tspan></text><text class="d v" x="286" y="1435">1.00<tspan x="286" dy="8.5">744.00</tspan><tspan x="282" dy="8.5">-</tspan></text>
<text class="d" x="210" y="1612">Disponibilidad<tspan x="210" dy="8">MTBF</tspan><tspan x="210" dy="8">MTTR</tspan></text><text class="d v" x="286" y="1612">1.00<tspan x="286" dy="8">744.00</tspan><tspan x="282" dy="8">-</tspan></text>
<text class="d" x="529" y="1612">Disponibilidad<tspan x="529" dy="8">MTBF</tspan><tspan x="529" dy="8">MTTR</tspan></text><text class="d v" x="606" y="1612">1.00<tspan x="606" dy="8">744.00</tspan><tspan x="602" dy="8">-</tspan></text>
<text class="d" x="2366" y="1612">Disponibilidad<tspan x="2366" dy="8">MTBF</tspan><tspan x="2366" dy="8">MTTR</tspan></text><text class="d v" x="2449" y="1612">1.00<tspan x="2449" dy="8">744.00</tspan><tspan x="2445" dy="8">-</tspan></text>
<text class="d" x="2693" y="1612">Disponibilidad<tspan x="2693" dy="8">MTBF</tspan><tspan x="2693" dy="8">MTTR</tspan></text><text class="d v" x="2777" y="1612">1.00<tspan x="2777" dy="8">744.00</tspan><tspan x="2773" dy="8">-</tspan></text>
</g>
</svg>
